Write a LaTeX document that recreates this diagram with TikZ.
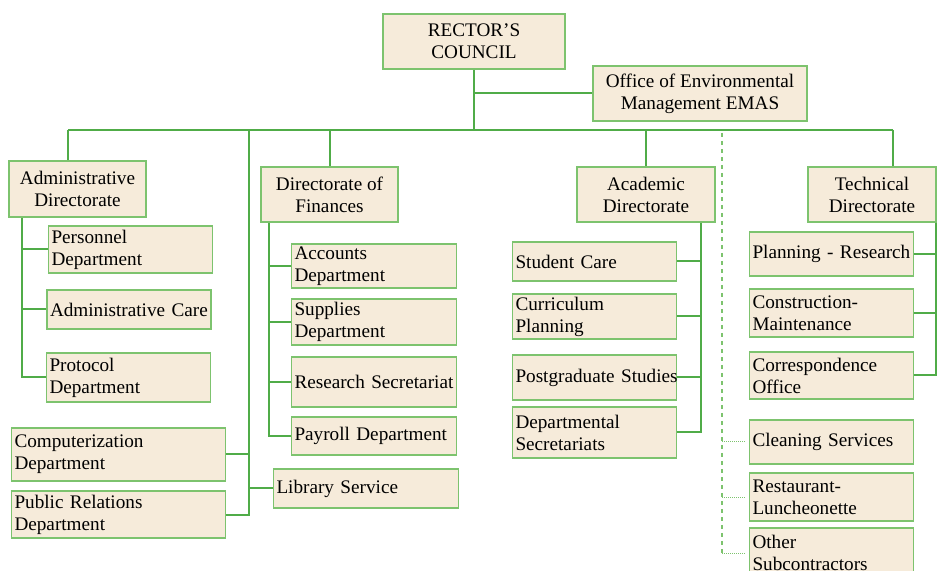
\documentclass[tikz,border=0pt]{standalone}
\usepackage{fontspec}
\setmainfont{Liberation Serif}
\definecolor{boxfill}{RGB}{246,235,218}
\definecolor{boxline}{RGB}{125,195,110}
\definecolor{linkgreen}{RGB}{80,172,72}
\tikzset{
  unit/.style={draw=boxline, fill=boxfill, line width=0.9pt, inner sep=1.5pt,
    font=\fontsize{9.6}{11}\selectfont},
  head/.style={unit, align=center},
  item/.style 2 args={unit, align=left, text width=#1, minimum height=#2},
  link/.style={draw=linkgreen, line width=1pt},
  subline/.style={draw=boxline, line width=0.7pt, dash pattern=on 2pt off 2pt},
  subdot/.style={draw=boxline, line width=0.5pt, dash pattern=on 0.5pt off 0.5pt}
}
\begin{document}
\begin{tikzpicture}[x=0.5pt, y=-0.5pt]
    \clip (0,0) rectangle (937,571);
    \useasboundingbox (0,0) rectangle (937,571);

    % Top level
    \node[head, minimum width=91pt, minimum height=27.5pt] (rector) at (474,41.5) {RECTOR'S\\COUNCIL};
    \node[head, minimum width=107pt, minimum height=27.5pt] (emas) at (700,93.5) {Office of Environmental\\Management EMAS};

    % Directorates
    \node[head, minimum width=68.5pt, minimum height=28pt] (admin) at (77.5,189) {Administrative\\Directorate};
    \node[head, minimum width=68.5pt, minimum height=27.5pt] (fin) at (329.5,194.5) {Directorate of\\Finances};
    \node[head, minimum width=69pt, minimum height=27.5pt] (acad) at (646,194.5) {Academic\\Directorate};
    \node[head, minimum width=64pt, minimum height=27.5pt] (tech) at (872,194.5) {Technical\\Directorate};

    % Administrative units
    \node[item={79pt}{23.5pt}] (pers) at (130.5,249.5) {Personnel\\Department};
    \node[item={79pt}{19.5pt}] (care) at (129,309.5) {Administrative Care};
    \node[item={79pt}{24.5pt}] (prot) at (128.5,377.5) {Protocol\\Department};
    \node[item={104pt}{26.5pt}] (comp) at (118.5,454.5) {Computerization\\Department};
    \node[item={104pt}{23.5pt}] (pr) at (118.5,514.5) {Public Relations\\Department};
    \node[item={89.5pt}{19.5pt}] (lib) at (366,488.5) {Library Service};

    % Finance units
    \node[item={79.5pt}{22pt}] (acc) at (374,266) {Accounts\\Department};
    \node[item={79.5pt}{23pt}] (sup) at (374,322) {Supplies\\Department};
    \node[item={79.5pt}{25pt}] (res) at (374,382) {\mbox{Research Secretariat}};
    \node[item={79.5pt}{19pt}] (pay) at (374,436) {Payroll Department};

    % Academic units
    \node[item={79pt}{19.5pt}] (stud) at (594.5,261.5) {Student Care};
    \node[item={79pt}{22.5pt}] (curr) at (594.5,316.5) {Curriculum\\Planning};
    \node[item={79pt}{22.5pt}] (post) at (594.5,377.5) {\mbox{Postgraduate Studies}};
    \node[item={79pt}{25.5pt}] (dept) at (594.5,432.5) {Departmental\\Secretariats};

    % Technical units
    \node[item={79pt}{22pt}] (plan) at (831.5,254) {\mbox{Planning - Research}};
    \node[item={79pt}{24pt}] (cons) at (831.5,313) {Construction-\\Maintenance};
    \node[item={79pt}{23.5pt}] (corr) at (831.5,375.5) {Correspondence\\Office};

    % Subcontractors
    \node[item={79pt}{22pt}] (clean) at (831.5,442) {Cleaning Services};
    \node[item={79pt}{24pt}] (rest) at (831.5,497) {Restaurant-\\Luncheonette};
    \node[item={79pt}{25pt}] (other) at (831.5,553) {Other\\Subcontractors};

    % Main bus
    \coordinate (busL) at (68,130);
    \coordinate (busR) at (893,130);
    \coordinate (spine) at (249,130);
    \coordinate (subc) at (722,130);
    \draw[link] (rector.south) -- (rector.south |- busL);
    \draw[link] (rector.south |- emas.west) -- (emas.west);
    \draw[link] (busL) -- (busR);
    \draw[link] (busL) -- (busL |- admin.north);
    \draw[link] (busR) -- (busR |- tech.north);
    \draw[link] (fin.north) -- (fin.north |- busL);
    \draw[link] (acad.north) -- (acad.north |- busL);

    % Units under the council
    \draw[link] (spine) |- (pr.east);
    \draw[link] (comp.east) -- (comp.east -| spine);
    \draw[link] (lib.west) -- (lib.west -| spine);

    % Branches
    \coordinate (aspine) at ([xshift=7pt]admin.south west);
    \draw[link] (aspine) |- (prot.west);
    \foreach \c in {pers,care}
        \draw[link] (\c.west) -- (\c.west -| aspine);

    \coordinate (fspine) at ([xshift=4.5pt]fin.south west);
    \draw[link] (fspine) |- (pay.west);
    \foreach \c in {acc,sup,res}
        \draw[link] (\c.west) -- (\c.west -| fspine);

    \coordinate (cspine) at ([xshift=-7.5pt]acad.south east);
    \draw[link] (cspine) |- (dept.east);
    \foreach \c in {stud,curr,post}
        \draw[link] (\c.east) -- (\c.east -| cspine);

    \coordinate (tspine) at ([xshift=-0.5pt]tech.south east);
    \draw[link] (tspine) |- (corr.east);
    \foreach \c in {plan,cons}
        \draw[link] (\c.east) -- (\c.east -| tspine);

    % Subcontracted services
    \draw[subline] ([yshift=-1.5pt]subc) -- (subc |- other.west);
    \foreach \c in {clean,rest,other}
        \draw[subdot] (\c.west -| subc) -- ([xshift=-2pt]\c.west);
\end{tikzpicture}
\end{document}
